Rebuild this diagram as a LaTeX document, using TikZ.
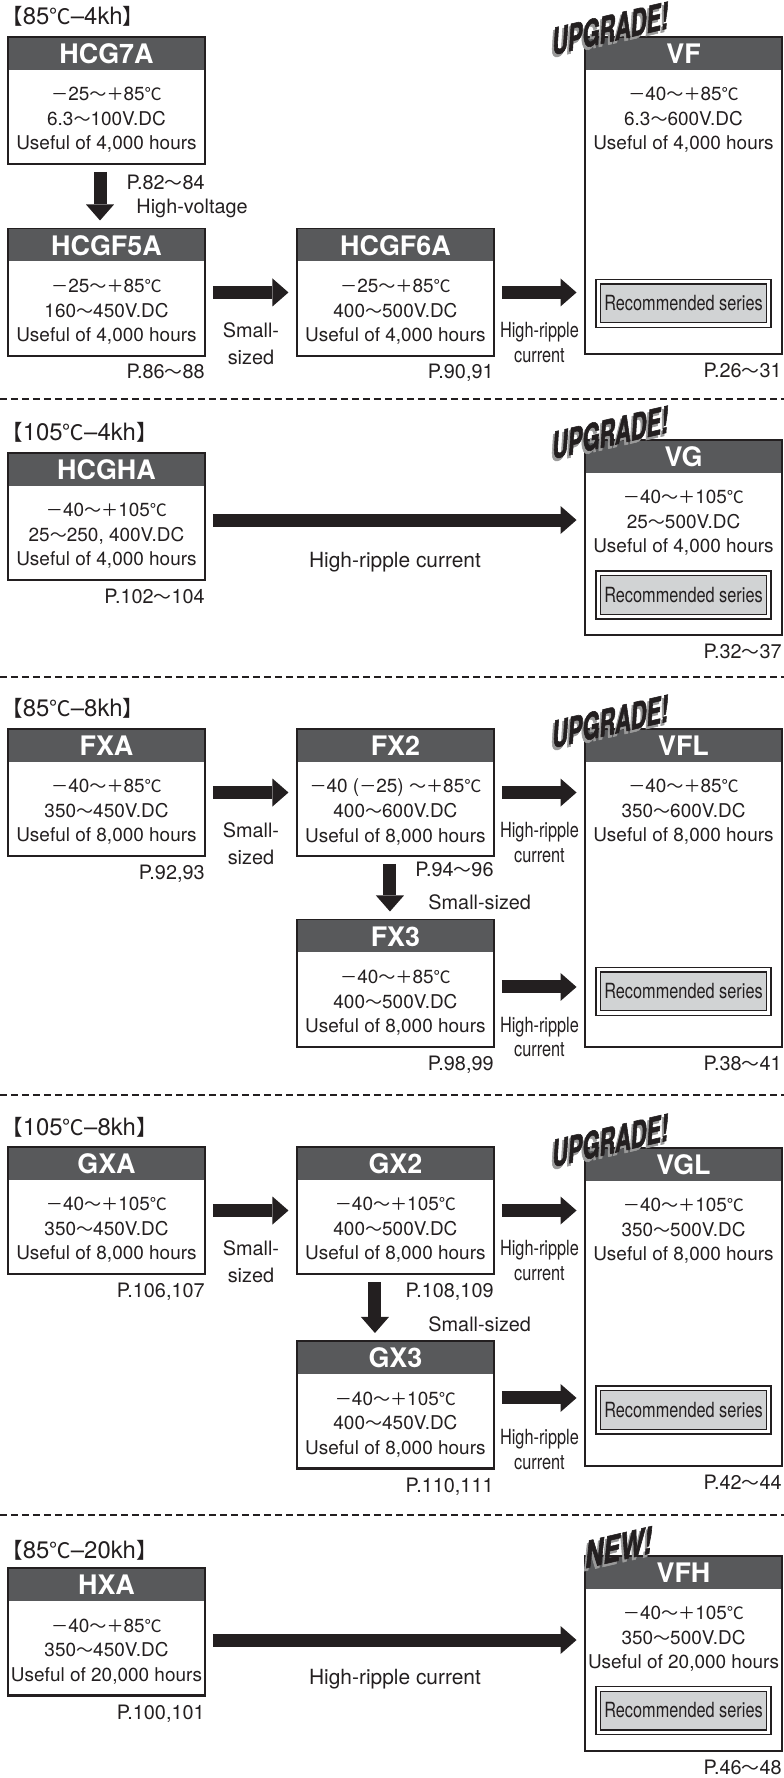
\documentclass[tikz,border=0pt]{standalone}
\usepackage{fontspec}
\usepackage{newunicodechar}
\usetikzlibrary{arrows.meta}
\setmainfont{TeX Gyre Heros}
\newfontfamily\cjkfont{Noto Sans CJK JP}[Scale=0.9]
\newfontfamily\narrowfont{TeX Gyre Heros}[FakeStretch=0.78]
\newfontfamily\stampfont{TeX Gyre Heros}[FakeSlant=0.3,FakeStretch=0.62,FakeBold=1.5]
\newunicodechar{～}{{\cjkfont\char"FF5E}}
\newunicodechar{℃}{{\cjkfont\char"2103}}
\newunicodechar{【}{{\cjkfont\char"3010}}
\newunicodechar{】}{{\cjkfont\char"3011}}
\newunicodechar{－}{{\cjkfont\char"FF0D}}
\newunicodechar{＋}{{\cjkfont\char"FF0B}}
\definecolor{headgray}{HTML}{58595B}
\definecolor{recgray}{HTML}{D1D3D4}
\definecolor{ink}{HTML}{231F20}
\definecolor{shadowgray}{HTML}{9A9A9A}

\begin{document}
\begin{tikzpicture}[x=0.02cm, y=-0.02cm,
    box/.style={draw=ink, line width=1.2pt, minimum width=3.94cm, minimum height=2.54cm, inner sep=0pt, outer sep=0pt},
    head/.style={fill=headgray, text=white, font=\bfseries\fontsize{15.3}{18}\selectfont, minimum width=3.9cm, minimum height=0.64cm, inner sep=0pt},
    spec/.style={align=center, text=ink, font=\fontsize{10.8}{14}\selectfont, inner sep=0pt},
    rec/.style={draw=ink, line width=0.6pt, double=white, double distance=0.07cm, fill=recgray, minimum width=3.41cm, minimum height=0.87cm, inner sep=0pt, outer sep=0pt, text=ink, font=\narrowfont\fontsize{11.9}{14}\selectfont},
    page/.style={anchor=base east, inner sep=0pt, text=ink, font=\fontsize{11.3}{14}\selectfont},
    note/.style={align=center, inner sep=0pt, text=ink, font=\fontsize{11.3}{15.3}\selectfont},
    ripple/.style={align=center, inner sep=0pt, text=ink, font=\narrowfont\fontsize{11.9}{14}\selectfont},
    heading/.style={anchor=base west, inner sep=0pt, text=ink, font=\fontsize{13.6}{16}\selectfont},
    flow/.style={draw=ink, line width=0.26cm, -{Triangle[length=0.32cm, width=0.56cm, line width=0pt]}, shorten <=0.16cm, shorten >=0.17cm},
    divider/.style={draw=ink, line width=1.1pt, dash pattern=on 0.14cm off 0.08cm},
    stamp/.style={rotate=13, inner sep=0pt, text=ink, font=\stampfont\bfseries\fontsize{20.5}{24}\selectfont}]

    \useasboundingbox (0,0) rectangle (784,1778);

    % 85C-4kh
    \node [heading] (t1) at (1,25) {【85℃–4kh】};
    \node [box] (HCG7A) at (106.5,100.5) {};
    \node [head, above of=HCG7A, node distance=0.94cm] (HCG7Ahead) {HCG7A};
    \node [spec, below of=HCG7A, node distance=0.39cm] (HCG7Aspec) {－25～＋85℃\\6.3～100V.DC\\Useful of 4,000 hours};
    \node [page] (p1) at ([yshift=-0.52cm]HCG7A.south east) {P.82～84};
    \node [box, below of=HCG7A, node distance=3.84cm] (HCGF5A) {};
    \node [head, above of=HCGF5A, node distance=0.94cm] (HCGF5Ahead) {HCGF5A};
    \node [spec, below of=HCGF5A, node distance=0.39cm] (HCGF5Aspec) {－25～＋85℃\\160～450V.DC\\Useful of 4,000 hours};
    \node [page] (p2) at ([yshift=-0.46cm]HCGF5A.south east) {P.86～88};
    \node [box, right of=HCGF5A, node distance=5.78cm] (HCGF6A) {};
    \node [head, above of=HCGF6A, node distance=0.94cm] (HCGF6Ahead) {HCGF6A};
    \node [spec, below of=HCGF6A, node distance=0.39cm] (HCGF6Aspec) {－25～＋85℃\\400～500V.DC\\Useful of 4,000 hours};
    \node [page] (p3) at ([yshift=-0.46cm]HCGF6A.south east) {P.90,91};
    \node [box, minimum height=6.34cm] (VF) at (683.5,195.5) {};
    \node [head, above of=VF, node distance=2.84cm] (VFhead) {VF};
    \node [spec, above of=VF, node distance=1.51cm] (VFspec) {－40～＋85℃\\6.3～600V.DC\\Useful of 4,000 hours};
    \node [rec, below of=VF, node distance=2.16cm] (VFrec) {Recommended series};
    \node [page] (p4) at ([yshift=-0.48cm]VF.south east) {P.26～31};
    \node [stamp, text=shadowgray] (VFup2) at ([xshift=0.4cm, yshift=0.1cm]VF.north west) {UPGRADE!};
    \node [stamp] (VFup) at ([xshift=0.44cm, yshift=0.16cm]VF.north west) {UPGRADE!};

    \draw [flow] ([xshift=-0.13cm]HCG7A.south) -- ([xshift=-0.13cm]HCGF5A.north) node [note, pos=0.68, right=0.6cm] (n1) {High-voltage};
    \draw [flow] (HCGF5A) -- (HCGF6A) node [note, midway, below=0.47cm] (n2) {Small-\\sized};
    \draw [flow] (HCGF6A) -- (HCGF6A -| VF.west) node [ripple, midway, below=0.47cm] (n3) {High-ripple\\current};

    \draw [divider] (0,399) -- (784,399);

    % 105C-4kh
    \node [heading] (t2) at (1,440) {【105℃–4kh】};
    \node [box] (HCGHA) at (106.5,516.5) {};
    \node [head, above of=HCGHA, node distance=0.94cm] (HCGHAhead) {HCGHA};
    \node [spec, below of=HCGHA, node distance=0.39cm] (HCGHAspec) {－40～＋105℃\\25～250, 400V.DC\\Useful of 4,000 hours};
    \node [page] (p5) at ([yshift=-0.48cm]HCGHA.south east) {P.102～104};
    \node [box, minimum height=3.9cm] (VG) at (683.5,537.5) {};
    \node [head, above of=VG, node distance=1.62cm] (VGhead) {VG};
    \node [spec, above of=VG, node distance=0.29cm] (VGspec) {－40～＋105℃\\25～500V.DC\\Useful of 4,000 hours};
    \node [rec, below of=VG, node distance=1.15cm] (VGrec) {Recommended series};
    \node [page] (p6) at ([yshift=-0.48cm]VG.south east) {P.32～37};
    \node [stamp, text=shadowgray] (VGup2) at ([xshift=0.4cm, yshift=0.08cm]VG.north west) {UPGRADE!};
    \node [stamp] (VGup) at ([xshift=0.44cm, yshift=0.14cm]VG.north west) {UPGRADE!};

    \draw [flow] ([yshift=-0.07cm]HCGHA.east) -- ([yshift=-0.07cm]HCGHA.east -| VG.west) node [note, midway, below=0.51cm, font=\fontsize{11.9}{14}\selectfont] (n4) {High-ripple current};

    \draw [divider] (0,677) -- (784,677);

    % 85C-8kh
    \node [heading] (t3) at (1,716) {【85℃–8kh】};
    \node [box] (FXA) at (106.5,792.5) {};
    \node [head, above of=FXA, node distance=0.94cm] (FXAhead) {FXA};
    \node [spec, below of=FXA, node distance=0.39cm] (FXAspec) {－40～＋85℃\\350～450V.DC\\Useful of 8,000 hours};
    \node [page] (p7) at ([yshift=-0.48cm]FXA.south east) {P.92,93};
    \node [box, right of=FXA, node distance=5.78cm] (FX2) {};
    \node [head, above of=FX2, node distance=0.94cm] (FX2head) {FX2};
    \node [spec, below of=FX2, node distance=0.39cm] (FX2spec) {－40 (－25) ～＋85℃\\400～600V.DC\\Useful of 8,000 hours};
    \node [page] (p8) at ([yshift=-0.42cm]FX2.south east) {P.94～96};
    \node [box, below of=FX2, node distance=3.82cm] (FX3) {};
    \node [head, above of=FX3, node distance=0.94cm] (FX3head) {FX3};
    \node [spec, below of=FX3, node distance=0.39cm] (FX3spec) {－40～＋85℃\\400～500V.DC\\Useful of 8,000 hours};
    \node [page] (p9) at ([yshift=-0.48cm]FX3.south east) {P.98,99};
    \node [box, minimum height=6.36cm] (VFL) at (683.5,888) {};
    \node [head, above of=VFL, node distance=2.85cm] (VFLhead) {VFL};
    \node [spec, above of=VFL, node distance=1.52cm] (VFLspec) {－40～＋85℃\\350～600V.DC\\Useful of 8,000 hours};
    \node [rec, below of=VFL, node distance=2.07cm] (VFLrec) {Recommended series};
    \node [page] (p10) at ([yshift=-0.48cm]VFL.south east) {P.38～41};
    \node [stamp, text=shadowgray] (VFLup2) at ([xshift=0.4cm, yshift=0.08cm]VFL.north west) {UPGRADE!};
    \node [stamp] (VFLup) at ([xshift=0.44cm, yshift=0.14cm]VFL.north west) {UPGRADE!};

    \draw [flow] (FXA) -- (FX2) node [note, midway, below=0.47cm] (n5) {Small-\\sized};
    \draw [flow] (FX2) -- (FX2 -| VFL.west) node [ripple, midway, below=0.47cm] (n6) {High-ripple\\current};
    \draw [flow] ([xshift=-0.11cm]FX2.south) -- ([xshift=-0.11cm]FX3.north) node [note, pos=0.72, right=0.64cm] (n7) {Small-sized};
    \draw [flow] ([yshift=-0.07cm]FX3.east) -- ([yshift=-0.07cm]FX3.east -| VFL.west) node [ripple, midway, below=0.47cm] (n8) {High-ripple\\current};

    \draw [divider] (0,1095) -- (784,1095);

    % 105C-8kh
    \node [heading] (t4) at (1,1135) {【105℃–8kh】};
    \node [box] (GXA) at (106.5,1210.5) {};
    \node [head, above of=GXA, node distance=0.94cm] (GXAhead) {GXA};
    \node [spec, below of=GXA, node distance=0.39cm] (GXAspec) {－40～＋105℃\\350～450V.DC\\Useful of 8,000 hours};
    \node [page] (p11) at ([yshift=-0.48cm]GXA.south east) {P.106,107};
    \node [box, right of=GXA, node distance=5.78cm] (GX2) {};
    \node [head, above of=GX2, node distance=0.94cm] (GX2head) {GX2};
    \node [spec, below of=GX2, node distance=0.39cm] (GX2spec) {－40～＋105℃\\400～500V.DC\\Useful of 8,000 hours};
    \node [page] (p12) at ([yshift=-0.48cm]GX2.south east) {P.108,109};
    \node [box, below of=GX2, node distance=3.89cm] (GX3) {};
    \node [head, above of=GX3, node distance=0.94cm] (GX3head) {GX3};
    \node [spec, below of=GX3, node distance=0.39cm] (GX3spec) {－40～＋105℃\\400～450V.DC\\Useful of 8,000 hours};
    \node [page] (p13) at ([yshift=-0.48cm]GX3.south east) {P.110,111};
    \node [box, minimum height=6.36cm] (VGL) at (683.5,1307) {};
    \node [head, above of=VGL, node distance=2.85cm] (VGLhead) {VGL};
    \node [spec, above of=VGL, node distance=1.52cm] (VGLspec) {－40～＋105℃\\350～500V.DC\\Useful of 8,000 hours};
    \node [rec, below of=VGL, node distance=2.06cm] (VGLrec) {Recommended series};
    \node [page] (p14) at ([yshift=-0.48cm]VGL.south east) {P.42～44};
    \node [stamp, text=shadowgray] (VGLup2) at ([xshift=0.4cm, yshift=0.08cm]VGL.north west) {UPGRADE!};
    \node [stamp] (VGLup) at ([xshift=0.44cm, yshift=0.14cm]VGL.north west) {UPGRADE!};

    \draw [flow] (GXA) -- (GX2) node [note, midway, below=0.47cm] (n9) {Small-\\sized};
    \draw [flow] (GX2) -- (GX2 -| VGL.west) node [ripple, midway, below=0.47cm] (n10) {High-ripple\\current};
    \draw [flow] ([xshift=-0.41cm]GX2.south) -- ([xshift=-0.41cm]GX3.north) node [note, pos=0.75, right=0.94cm] (n11) {Small-sized};
    \draw [flow] ([yshift=0.14cm]GX3.east) -- ([yshift=0.14cm]GX3.east -| VGL.west) node [ripple, midway, below=0.5cm] (n12) {High-ripple\\current};

    \draw [divider] (0,1515) -- (784,1515);

    % 85C-20kh
    \node [heading] (t5) at (1,1558) {【85℃–20kh】};
    \node [box] (HXA) at (106.5,1632) {};
    \node [head, above of=HXA, node distance=0.94cm] (HXAhead) {HXA};
    \node [spec, below of=HXA, node distance=0.39cm] (HXAspec) {－40～＋85℃\\350～450V.DC\\Useful of 20,000 hours};
    \node [page] (p15) at ([yshift=-0.48cm]HXA.south east) {P.100,101};
    \node [box, minimum height=3.9cm] (VFH) at (683.5,1653.5) {};
    \node [head, above of=VFH, node distance=1.62cm] (VFHhead) {VFH};
    \node [spec, above of=VFH, node distance=0.29cm] (VFHspec) {－40～＋105℃\\350～500V.DC\\Useful of 20,000 hours};
    \node [rec, below of=VFH, node distance=1.14cm] (VFHrec) {Recommended series};
    \node [page] (p16) at ([yshift=-0.48cm]VFH.south east) {P.46～48};
    \node [stamp, text=shadowgray] (VFHnew2) at ([xshift=0.56cm, yshift=0.1cm]VFH.north west) {\scalebox{1.15}[1]{NEW!}};
    \node [stamp] (VFHnew) at ([xshift=0.6cm, yshift=0.16cm]VFH.north west) {\scalebox{1.15}[1]{NEW!}};

    \draw [flow] ([yshift=-0.16cm]HXA.east) -- ([yshift=-0.16cm]HXA.east -| VFH.west) node [note, midway, below=0.45cm, font=\fontsize{11.9}{14}\selectfont] (n13) {High-ripple current};
\end{tikzpicture}
\end{document}
